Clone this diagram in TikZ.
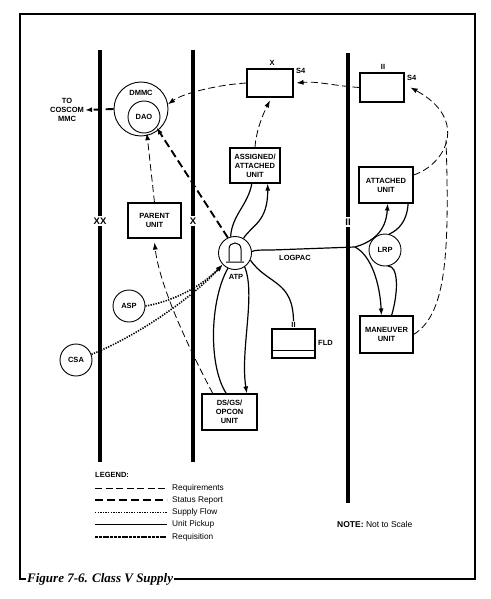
\documentclass[tikz,border=0pt]{standalone}
\usepackage{fontspec}
\setsansfont{Liberation Sans}
\newfontfamily\capfont{Liberation Serif}
\usetikzlibrary{arrows.meta}

\begin{document}
\begin{tikzpicture}
[
    x=1pt, y=-1pt,
    >={Latex[length=7pt,width=5pt]},
    every node/.style={font=\sffamily\bfseries\fontsize{7.5}{9}\selectfont, align=center, inner sep=1pt},
    unit/.style={draw, line width=1.1pt, inner sep=0pt},
    post/.style={draw, circle, line width=0.9pt, inner sep=0pt, minimum size=32pt},
    bound/.style={line width=3.5pt},
    echelon/.style={fill=white, inner sep=1.5pt, font=\sffamily\bfseries\fontsize{9.5}{10}\selectfont},
    legendtext/.style={anchor=west, font=\sffamily\fontsize{8.3}{9}\selectfont},
    req/.style={line width=0.8pt, dash pattern=on 7pt off 3.5pt},
    status/.style={line width=1.9pt, dash pattern=on 8pt off 4pt},
    supply/.style={line width=1.6pt, dash pattern=on 1.3pt off 1.3pt},
    pickup/.style={line width=1.2pt},
    requis/.style={line width=2.2pt, dash pattern=on 3pt off 0.8pt},
]
\useasboundingbox (0,0) rectangle (490,599);
\node[anchor=west, font=\capfont\bfseries\itshape\fontsize{13}{14}\selectfont] (cap) at (26,579) {Figure 7-6. Class V Supply};
\draw[line width=1.2pt] (cap.east) -- (475,579) -- (475,14) -- (20,14) -- (20,579) -- (cap.west);

\draw[bound] (100,50) -- (100,462);
\draw[bound] (193,50) -- (193,462);
\draw[bound] (348,53) -- (348,503);
\node[echelon] (bxx) at (100,221) {XX};
\node[echelon] (bx) at (193,221) {X};
\node[echelon] (bii) at (348,222) {II};

\node[unit, minimum width=46pt, minimum height=28pt] (xsf) at (270,83) {};
\node (xsfx) at (272,63) {X};
\node[anchor=west] (xsfs) at (295,71) {S4};
\node[unit, minimum width=44pt, minimum height=29pt] (iisf) at (382,87.5) {};
\node (iisfii) at (383,67) {II};
\node[anchor=west] (iisfs) at (406,78) {S4};
\node[unit, minimum width=50pt, minimum height=35pt] (assigned) at (255,165.5) {ASSIGNED/\\ATTACHED\\UNIT};
\node[unit, minimum width=53pt, minimum height=35pt] (parent) at (154.5,220.5) {PARENT\\UNIT};
\node[unit, minimum width=54pt, minimum height=36pt] (attached) at (386,185) {ATTACHED\\UNIT};
\node[unit, minimum width=53pt, minimum height=37pt] (maneuver) at (386.5,334.5) {MANEUVER\\UNIT};
\node[unit, minimum width=55pt, minimum height=36pt] (dsgs) at (229.5,412) {DS/GS/\\OPCON\\UNIT};
\node[unit, minimum width=43pt, minimum height=29pt] (fld) at (293.5,343.5) {};
\draw[line width=1.1pt] ([yshift=8pt]fld.south west) -- ([yshift=8pt]fld.south east);
\node (fldii) at (293.5,325) {II};
\node[anchor=west] (fldl) at (317,343) {FLD};

\node[draw, circle, line width=0.9pt, minimum size=54pt] (dmmc) at (141,109) {};
\node (dmmct) at (141,93) {DMMC};
\node[post] (dao) at (144,117) {DAO};
\node[post, minimum size=33pt] (atp) at (235,253) {};
\draw[line width=1pt] (229,261) -- (229,249) .. controls (229,241) and (241,241) .. (241,249) -- (241,261)
    (226,262) -- (244,262);
\node (atpl) at (236,277) {ATP};
\node[post] (lrp) at (385,250) {LRP};
\node[post] (asp) at (129,306) {ASP};
\node[post] (csa) at (76,360) {CSA};
\node (coscom) at (67,110) {TO\\COSCOM\\MMC};
\node (logpac) at (295,258) {LOGPAC};
\coordinate (lj) at (355,247);
\coordinate (jn) at (446,140);

\draw[status,->] (dmmc.west) -- (coscom.east);
\draw[req,->] (xsf.west) .. controls (215,85) and (182,94) .. (dmmc.10);
\draw[req,->] (iisf.west) .. controls (335,86) and (318,81) .. ([xshift=3pt]xsf.east);
\draw[req,->] (assigned.north) .. controls (256,130) and (264,112) .. ([yshift=-3pt]xsf.south);
\draw[req,->] (attached.20) .. controls (445,165) and (470,120) .. ([xshift=6pt]iisf.east);
\draw[req] (maneuver.east) .. controls (445,315) and (450,260) .. (jn);
\draw[status,->] (atp.115) -- (dao.-40);
\draw[req,->] (parent.north) -- (dao.-80);
\draw[req,->] (dsgs.132) .. controls (195,360) and (160,290) .. ([yshift=-4pt]parent.south);
\draw[supply,->] (asp.east) .. controls (170,302) and (200,288) .. (atp.223);
\draw[supply,->] (csa.20) .. controls (140,335) and (195,295) .. (atp.223);
\draw[pickup] (assigned.-100) .. controls (248,205) and (232,215) .. (atp.105);
\draw[pickup,->] (atp.60) .. controls (252,225) and (268,222) .. (assigned.-55);
\draw[pickup] (atp.5) .. controls (255,250) and (260,250) .. (272,250) -- (lj);
\draw[pickup,->] (lj) .. controls (372,242) and (386,232) .. (attached.-85);
\draw[pickup] (attached.-40) .. controls (407,222) and (398,230) .. (lrp.75);
\draw[pickup,->] (lj) .. controls (372,256) and (380,285) .. (maneuver.105);
\draw[pickup] (maneuver.75) .. controls (399,290) and (398,265) .. (lrp.-80);
\draw[pickup] (atp.-115) .. controls (210,300) and (208,365) .. (dsgs.100);
\draw[pickup,->] (atp.-55) .. controls (256,295) and (240,350) .. (dsgs.47);
\draw[pickup] (atp.-25) .. controls (268,285) and (293,280) .. (fldii.north);

\node[anchor=west] (lgd) at (94,475) {LEGEND:};
\foreach \sty/\txt [count=\i] in {req/Requirements, status/Status Report, supply/Supply Flow, pickup/Unit Pickup, requis/Requisition}
{
    \node[legendtext] (lg\i) at (171,476+12.2*\i) {\txt};
    \draw[\sty] ([xshift=-76pt]lg\i.west) -- ([xshift=-4pt]lg\i.west);
}
\node[legendtext, font=\sffamily\fontsize{8.5}{9}\selectfont] (note) at (336,524) {\textbf{NOTE:} Not to Scale};
\end{tikzpicture}
\end{document}
